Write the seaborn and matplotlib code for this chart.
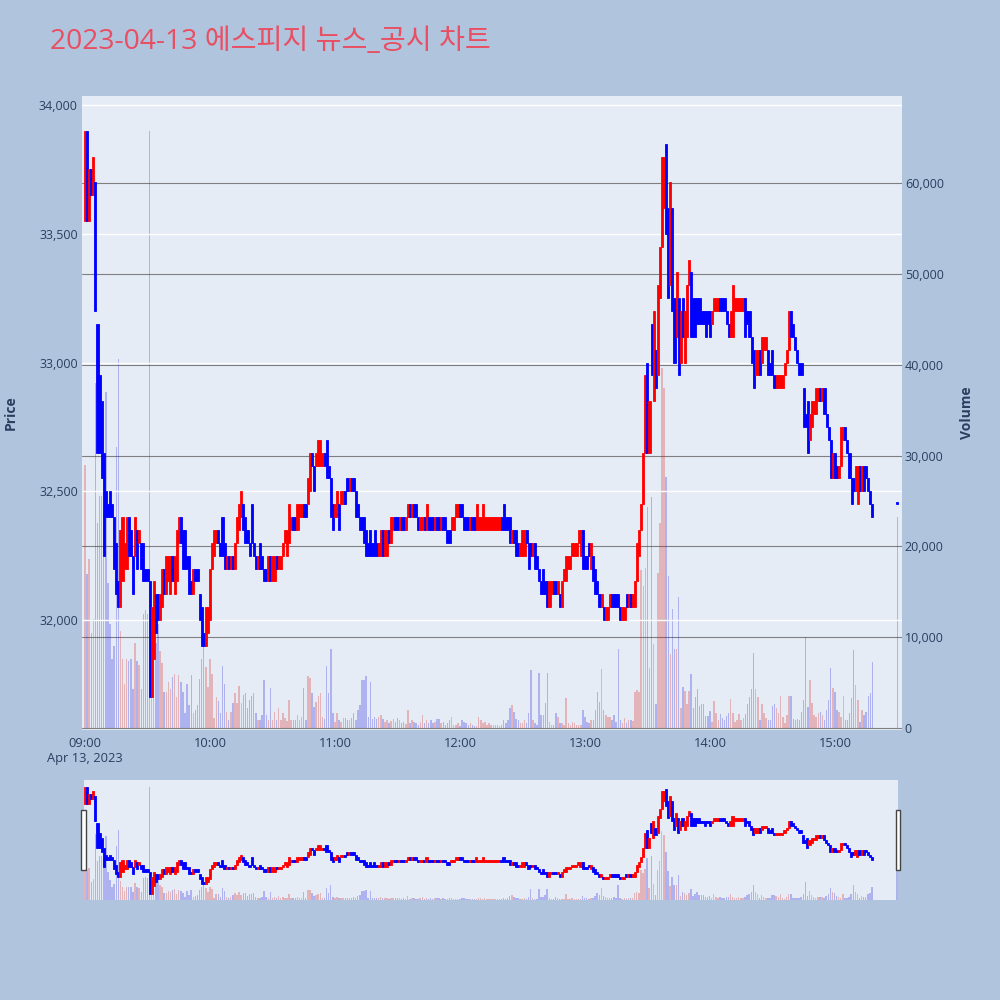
import matplotlib
matplotlib.use('Agg')
import matplotlib.pyplot as plt
import matplotlib.patches as mpatches
import numpy as np
import pandas as pd
import seaborn as sns

# 분봉 데이터 (09:00 ~ 15:18, 마지막 값은 15:30 종가 단일가)
titulo = '2023-04-13 에스피지 뉴스_공시 차트'

opens = [
    33550, 33900, 33550, 33750, 33650, 33700, 33150, 32950, 32850, 32650,
    32500, 32450, 32500, 32450, 32400, 32300, 32150, 32050, 32150, 32200,
    32200, 32400, 32350, 32250, 32250, 32350, 32300, 32300, 32300, 32200,
    32200, 32150, 31700, 31850, 32100, 32100, 32000, 32050, 32200, 32100,
    32150, 32100, 32250, 32100, 32150, 32300, 32400, 32350, 32350, 32250,
    32250, 32150, 32100, 32200, 32200, 32100, 32050, 31950, 31900, 31950,
    32000, 32200, 32250, 32300, 32350, 32300, 32400, 32300, 32200, 32250,
    32200, 32250, 32200, 32300, 32350, 32400, 32450, 32400, 32350, 32300,
    32450, 32300, 32250, 32200, 32300, 32250, 32200, 32200, 32150, 32250,
    32150, 32150, 32250, 32200, 32200, 32250, 32300, 32250, 32300, 32350,
    32400, 32400, 32350, 32400, 32400, 32450, 32450, 32450, 32500, 32650,
    32600, 32600, 32600, 32600, 32600, 32650, 32700, 32600, 32550, 32450,
    32400, 32400, 32450, 32450, 32450, 32500, 32550, 32500, 32550, 32550,
    32500, 32450, 32400, 32400, 32400, 32350, 32300, 32350, 32300, 32350,
    32300, 32250, 32250, 32350, 32250, 32250, 32350, 32300, 32350, 32400,
    32400, 32350, 32400, 32400, 32350, 32400, 32450, 32400, 32450, 32450,
    32400, 32350, 32350, 32400, 32350, 32400, 32400, 32400, 32350, 32400,
    32400, 32350, 32400, 32400, 32350, 32350, 32350, 32350, 32400, 32400,
    32450, 32450, 32400, 32400, 32400, 32350, 32400, 32400, 32350, 32350,
    32350, 32350, 32350, 32350, 32350, 32350, 32350, 32350, 32350, 32350,
    32400, 32450, 32400, 32400, 32400, 32300, 32350, 32350, 32300, 32250,
    32250, 32250, 32350, 32300, 32300, 32250, 32300, 32250, 32200, 32150,
    32200, 32150, 32150, 32050, 32100, 32150, 32150, 32100, 32100, 32050,
    32150, 32150, 32200, 32200, 32250, 32250, 32250, 32300, 32250, 32350,
    32250, 32250, 32300, 32200, 32250, 32200, 32150, 32100, 32050, 32050,
    32000, 32000, 32050, 32100, 32100, 32100, 32100, 32050, 32000, 32000,
    32100, 32050, 32100, 32050, 32050, 32150, 32250, 32350, 32450, 32650,
    33000, 32650, 33150, 32850, 33050, 32950, 33250, 33450, 33600, 33850,
    33600, 33300, 33600, 33250, 33100, 33250, 33000, 33250, 33000, 33100,
    33300, 33350, 33250, 33250, 33250, 33250, 33200, 33200, 33200, 33200,
    33200, 33150, 33200, 33200, 33200, 33250, 33250, 33250, 33200, 33150,
    33100, 33100, 33200, 33200, 33200, 33200, 33200, 33250, 33200, 33200,
    33100, 33050, 32950, 32950, 33050, 33000, 33050, 33050, 33050, 33000,
    33050, 32950, 32900, 32900, 32900, 32900, 32950, 33000, 33050, 33200,
    33150, 33100, 33050, 33000, 33000, 32900, 32800, 32850, 32700, 32750,
    32800, 32800, 32850, 32900, 32850, 32900, 32800, 32750, 32700, 32550,
    32650, 32600, 32550, 32600, 32700, 32750, 32700, 32650, 32550, 32550,
    32500, 32450, 32600, 32500, 32600, 32600, 32550, 32500, 32450,
    32450,
]

closes = [
    33900, 33550, 33750, 33650, 33800, 33200, 32650, 32650, 32550, 32250,
    32400, 32400, 32400, 32400, 32200, 32100, 32050, 32350, 32400, 32300,
    32400, 32250, 32250, 32100, 32400, 32200, 32350, 32200, 32150, 32150,
    32150, 31700, 32050, 32150, 31950, 32000, 32100, 32200, 32100, 32250,
    32250, 32250, 32150, 32250, 32350, 32400, 32300, 32200, 32200, 32200,
    32100, 32100, 32200, 32150, 32150, 32000, 31900, 31900, 32050, 32050,
    32200, 32300, 32350, 32350, 32300, 32250, 32250, 32200, 32250, 32200,
    32250, 32200, 32300, 32400, 32450, 32500, 32350, 32300, 32300, 32250,
    32300, 32250, 32200, 32250, 32200, 32200, 32150, 32150, 32250, 32150,
    32250, 32250, 32200, 32250, 32250, 32300, 32350, 32350, 32450, 32400,
    32350, 32350, 32450, 32450, 32450, 32400, 32400, 32550, 32650, 32600,
    32500, 32650, 32700, 32700, 32650, 32600, 32550, 32550, 32400, 32350,
    32450, 32500, 32350, 32500, 32500, 32450, 32500, 32550, 32500, 32500,
    32400, 32400, 32350, 32350, 32300, 32250, 32250, 32250, 32250, 32250,
    32250, 32300, 32350, 32250, 32350, 32350, 32300, 32400, 32400, 32350,
    32350, 32400, 32350, 32350, 32400, 32450, 32400, 32450, 32400, 32400,
    32350, 32400, 32400, 32350, 32450, 32350, 32350, 32350, 32400, 32350,
    32350, 32400, 32350, 32350, 32300, 32300, 32400, 32400, 32450, 32450,
    32400, 32400, 32350, 32350, 32350, 32400, 32350, 32350, 32450, 32400,
    32400, 32450, 32400, 32400, 32400, 32400, 32400, 32400, 32400, 32400,
    32350, 32350, 32350, 32350, 32300, 32350, 32300, 32250, 32250, 32300,
    32350, 32350, 32300, 32200, 32250, 32300, 32200, 32200, 32150, 32100,
    32100, 32100, 32050, 32150, 32150, 32100, 32100, 32150, 32050, 32150,
    32200, 32250, 32250, 32250, 32300, 32300, 32300, 32350, 32350, 32200,
    32200, 32200, 32250, 32300, 32150, 32100, 32100, 32050, 32100, 32000,
    32050, 32050, 32100, 32050, 32050, 32050, 32050, 32000, 32050, 32050,
    32050, 32100, 32050, 32100, 32150, 32300, 32350, 32450, 32650, 32950,
    32650, 32850, 32950, 33200, 32900, 33300, 33450, 33800, 33800, 33500,
    33250, 33700, 33200, 33000, 33350, 32950, 33200, 33100, 33200, 33300,
    33400, 33100, 33100, 33100, 33150, 33150, 33150, 33150, 33100, 33150,
    33100, 33200, 33250, 33250, 33250, 33200, 33200, 33200, 33150, 33100,
    33200, 33300, 33250, 33250, 33250, 33250, 33250, 33100, 33150, 33100,
    33000, 32900, 33050, 33050, 32950, 33100, 33100, 33100, 32950, 32950,
    32950, 32900, 32950, 32950, 32950, 32950, 33000, 33050, 33200, 33100,
    33100, 33050, 33000, 32950, 32950, 32750, 32750, 32650, 32800, 32850,
    32850, 32900, 32900, 32850, 32900, 32800, 32750, 32700, 32550, 32650,
    32550, 32550, 32600, 32750, 32750, 32700, 32650, 32550, 32450, 32500,
    32600, 32600, 32500, 32600, 32500, 32550, 32500, 32450, 32400,
    32450,
]

# 거래량 (천 주)
volumes_k = [
    29, 17, 18.6, 10.5, 12, 38, 22.6, 25.5, 25.5, 24,
    37, 16, 11.4, 7.6, 9, 31, 40.6, 10.7, 7.6, 4.9,
    7.6, 7.4, 7.6, 4.3, 9.4, 7.4, 6.9, 4.3, 12.5, 13,
    12.5, 65.7, 13.2, 10.5, 9.4, 11.4, 8.5, 7.2, 4, 4,
    5.1, 4.3, 5.6, 6, 3.4, 5.8, 5.1, 4, 1.6, 4.9,
    2.5, 5.8, 1.6, 2, 2.5, 5.4, 7.6, 10, 6.7, 4.5,
    7.6, 6, 1.1, 3.4, 3, 1.6, 6.8, 4.9, 1.8, 0.9,
    1.8, 2.7, 3.8, 2.7, 4.6, 2.7, 3.6, 3.8, 2.2, 3.1,
    3.5, 3.8, 1.6, 0.9, 0.9, 1.4, 5.3, 1.4, 0.9, 4.4,
    0.9, 1.8, 0.9, 2.2, 0.9, 1.6, 1.1, 0.8, 3.1, 0.9,
    0.9, 0.9, 1.4, 0.9, 1.2, 4.4, 0.9, 5.7, 5.5, 3.8,
    2.3, 2.9, 3.5, 3.8, 1.2, 1, 6.8, 3.8, 8.7, 1.6,
    0.7, 1.6, 0.9, 0.7, 1.1, 1.1, 0.9, 0.9, 1.1, 1.6,
    0.9, 2, 2.5, 5.3, 5.3, 5.7, 1.2, 5.1, 1, 1.2,
    1, 1.2, 1.4, 1, 0.7, 0.9, 0.5, 0.8, 1, 0.7,
    1.1, 0.9, 0.5, 0.7, 0.4, 2, 0.5, 0.9, 0.7, 0.5,
    0.3, 0.7, 1.4, 0.5, 0.9, 0.5, 0.9, 0.5, 0.7, 1,
    1, 0.5, 0.7, 0.3, 0.5, 0.9, 1.2, 0.3, 0.3, 0.5,
    0.2, 0.9, 0.7, 0.5, 0.3, 0.5, 0.3, 0.2, 0.2, 1.2,
    0.9, 0.5, 0.7, 0.3, 0.5, 0.3, 0.3, 0.3, 0.3, 0.2,
    0.3, 0.9, 0.5, 0.9, 2.2, 2.5, 1.8, 1, 0.9, 0.5,
    0.5, 0.9, 0.5, 1.6, 6.4, 0.9, 0.5, 0.3, 6.1, 1.4,
    1.4, 2.7, 6.1, 0.7, 0.3, 0.3, 1.7, 1.2, 0.5, 0.5,
    0.3, 3.3, 0.5, 0.3, 0.7, 0.5, 0.3, 0.3, 0.3, 2,
    1.2, 0.7, 0.5, 0.9, 0.9, 2, 4, 2.9, 6.5, 2,
    1.4, 1.2, 1.2, 0.9, 1.4, 0.7, 8.7, 0.9, 0.5, 1.1,
    0.5, 0.9, 0.9, 0.8, 4, 4.2, 4, 17.4, 15.6, 17.6,
    24.3, 6.6, 25.4, 9.3, 2.6, 17.1, 22.6, 39.7, 37.4, 27.6,
    16.7, 8.1, 13.1, 8.7, 8.7, 14.4, 2.2, 4.5, 4.1, 2.6,
    4.1, 5.9, 2.2, 3.4, 4.3, 2.4, 2.6, 2.6, 1.3, 1.3,
    1.9, 0.7, 3, 1.7, 0.9, 1.5, 1.1, 0.9, 1.3, 1.7,
    3.2, 1.7, 0.7, 0.9, 1.5, 0.9, 1.1, 1.5, 2.6, 3.4,
    4.3, 8.3, 4.3, 3.4, 0.9, 2.6, 1.7, 1.1, 0.9, 0.9,
    2.4, 2.6, 2.2, 1.6, 3.5, 1.2, 0.5, 1.4, 3.5, 3.5,
    1, 0.9, 1, 0.9, 1.8, 3.1, 10, 2.3, 5.3, 2.7,
    1.4, 1.2, 1.6, 1.8, 1.4, 0.9, 2, 3.1, 6.6, 4.4,
    4, 2, 1.8, 1.2, 3.5, 0.9, 0.9, 1.6, 3.3, 8.6,
    4.7, 3.1, 0.7, 2, 1.4, 1.8, 3.5, 3.8, 7.3,
    23.2,
]

# 분 단위 시간축 (장 시작 09:00 = 0, 15:30 종가 = 390)
minutos = list(range(len(opens) - 1)) + [390]

rotulos_hora = ['09:00', '10:00', '11:00', '12:00', '13:00', '14:00', '15:00']
posicoes_hora = [0, 60, 120, 180, 240, 300, 360]
ticks_preco = [32000, 32500, 33000, 33500, 34000]
ticks_volume = [0, 10000, 20000, 30000, 40000, 50000, 60000]

assert len(opens) == len(closes) == len(volumes_k) == len(minutos)

df = pd.DataFrame({
    'minuto': minutos,
    'open': opens,
    'close': closes,
    'volume': [v * 1000 for v in volumes_k],
})
df['dir'] = np.where(df['close'] > df['open'], 'up', 'down')

CORES = {'up': '#FF0000', 'down': '#0000FF'}
FUNDO_FIG = '#B0C4DE'
FUNDO_PLOT = '#E5ECF6'
TEXTO = '#2a3f5f'

sns.set_style('white')
plt.rcParams['font.family'] = ['Open Sans', 'Noto Sans CJK KR', 'DejaVu Sans']

LIM_PRECO = (31573, 34035)
LIM_VOL = (-220, 69600)


def desenhar(ax_vol, ax_px):
    """Volume (seaborn) no eixo de baixo, candles no eixo gêmeo."""
    sns.barplot(
        data=df, x='minuto', y='volume', hue='dir', palette=CORES,
        native_scale=True, dodge=False, errorbar=None, alpha=0.28,
        width=0.7, linewidth=0, legend=False, ax=ax_vol,
    )
    corpo = (df['close'] - df['open']).abs().clip(lower=10)
    base = df[['open', 'close']].min(axis=1)
    cores = df['dir'].map(CORES)
    ax_px.bar(df['minuto'], corpo, bottom=base, width=1.0,
              color=cores, edgecolor=cores, linewidth=0.6)
    ax_vol.set_ylim(*LIM_VOL)
    ax_px.set_ylim(*LIM_PRECO)
    ax_vol.set_xlabel('')
    ax_vol.set_ylabel('')
    for a in (ax_vol, ax_px):
        for s in a.spines.values():
            s.set_visible(False)


fig = plt.figure(figsize=(10, 10), dpi=100, facecolor=FUNDO_FIG)

# Gráfico principal
ax_vol = fig.add_axes([0.082, 0.27, 0.82, 0.634], facecolor=FUNDO_PLOT)
ax_px = ax_vol.twinx()
desenhar(ax_vol, ax_px)
ax_vol.set_xlim(-1.44, 392.2)

ax_px.yaxis.set_ticks_position('left')
ax_vol.yaxis.set_ticks_position('right')

ax_px.set_yticks(ticks_preco)
ax_px.set_yticklabels([f'{p:,}' for p in ticks_preco])
ax_vol.set_yticks(ticks_volume)
ax_vol.set_yticklabels([f'{v:,}' for v in ticks_volume])
ax_vol.set_xticks(posicoes_hora)
ax_vol.set_xticklabels([rotulos_hora[0] + '\nApr 13, 2023'] + rotulos_hora[1:])

ax_px.tick_params(axis='y', length=0, pad=3, labelsize=9, labelcolor=TEXTO)
ax_vol.tick_params(axis='y', length=0, pad=2, labelsize=9, labelcolor=TEXTO)
ax_vol.tick_params(axis='x', length=0, pad=5, labelsize=9.3, labelcolor=TEXTO)

ax_vol.set_axisbelow(True)
ax_vol.grid(axis='y', color='#7f7f7f', linewidth=0.8)
ax_vol.grid(axis='x', visible=False)
ax_px.grid(axis='y', color='white', linewidth=1.0)
ax_px.grid(axis='x', visible=False)

# Títulos dos eixos
fig.text(0.011, 0.587, 'Price', rotation=90, fontsize=10, fontweight='bold',
         color=TEXTO, ha='center', va='center')
fig.text(0.967, 0.587, 'Volume', rotation=90, fontsize=10, fontweight='bold',
         color=TEXTO, ha='center', va='center')

# Range slider
ax_s = fig.add_axes([0.084, 0.100, 0.814, 0.120], facecolor=FUNDO_PLOT)
ax_s2 = ax_s.twinx()
desenhar(ax_s, ax_s2)
ax_s.set_xlim(-0.5, 390.5)
for a in (ax_s, ax_s2):
    a.set_xticks([])
    a.set_yticks([])
    a.grid(False)

for x0 in (0.0812, 0.8958):
    fig.add_artist(mpatches.Rectangle(
        (x0, 0.130), 0.0046, 0.060, transform=fig.transFigure,
        facecolor='white', edgecolor='#444444', linewidth=1.0))

fig.text(0.05, 0.958, titulo, fontsize=20.3, color='#E84F63', va='center', ha='left')

plt.savefig('out.png', dpi=100, facecolor=FUNDO_FIG)
plt.close()
